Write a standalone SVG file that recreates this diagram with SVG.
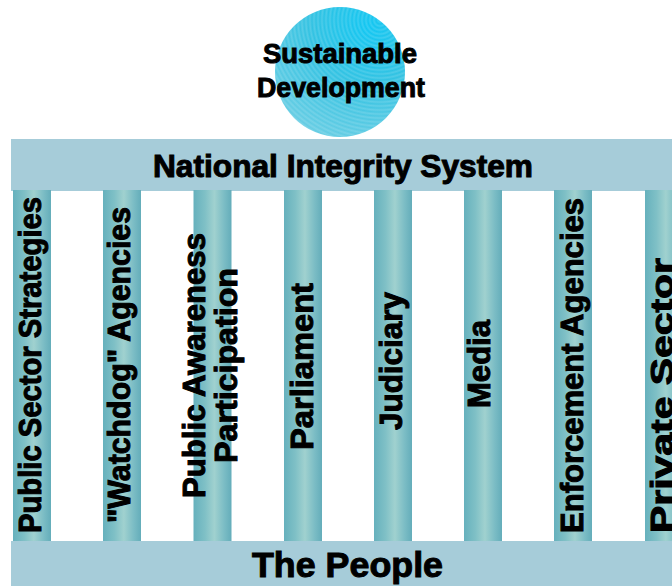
<svg xmlns="http://www.w3.org/2000/svg" width="672" height="586" viewBox="0 0 672 586">
  <defs>
    <linearGradient id="pillarShade" x1="0" y1="0" x2="1" y2="0">
      <stop offset="0" stop-color="#66b1bd"/>
      <stop offset="0.3" stop-color="#7fc0c6"/>
      <stop offset="0.55" stop-color="#a0d1cf"/>
      <stop offset="0.8" stop-color="#7cbdc5"/>
      <stop offset="1" stop-color="#64adba"/>
    </linearGradient>
    <radialGradient id="globeFill" cx="0.72" cy="0.15" r="1" fx="0.72" fy="0.15">
      <stop offset="0" stop-color="#10c6f2"/>
      <stop offset="0.45" stop-color="#32c2e2"/>
      <stop offset="1" stop-color="#70cfe4"/>
    </radialGradient>
    <radialGradient id="globeRings" gradientUnits="userSpaceOnUse" cx="380" cy="20" r="4" spreadMethod="repeat">
      <stop offset="0" stop-color="#ffffff" stop-opacity="0"/>
      <stop offset="0.5" stop-color="#ffffff" stop-opacity="0.16"/>
      <stop offset="1" stop-color="#ffffff" stop-opacity="0"/>
    </radialGradient>
  </defs>
  <style>
    .band { fill: #a6ccd9; }
    .pillar { fill: url(#pillarShade); }
    .label { font-family: "Liberation Sans", Arial, sans-serif; font-weight: bold; fill: #000; stroke: #000; stroke-width: 1; }
    .col { font-size: 31px; }
  </style>

  <!-- globe -->
  <g id="sustainable-development">
    <circle cx="340" cy="72" r="65" fill="url(#globeFill)"/>
    <circle cx="340" cy="72" r="65" fill="url(#globeRings)"/>
    <text class="label" x="263" y="63" font-size="28" textLength="154" lengthAdjust="spacingAndGlyphs">Sustainable</text>
    <text class="label" x="257" y="97" font-size="28" textLength="168" lengthAdjust="spacingAndGlyphs">Development</text>
  </g>

  <!-- roof -->
  <g id="national-integrity-system">
    <rect class="band" x="11" y="139" width="661" height="52"/>
    <text class="label" x="153" y="177" font-size="31" textLength="380" lengthAdjust="spacingAndGlyphs">National Integrity System</text>
  </g>

  <!-- pillars -->
  <g id="pillar-public-sector">
    <rect class="pillar" x="13" y="190" width="38" height="352"/>
    <text class="label col" transform="translate(41,533) rotate(-90)" textLength="336" lengthAdjust="spacingAndGlyphs">Public Sector Strategies</text>
  </g>
  <g id="pillar-watchdog">
    <rect class="pillar" x="103" y="190" width="38" height="352"/>
    <text class="label col" transform="translate(130,523) rotate(-90)" textLength="316" lengthAdjust="spacingAndGlyphs">"Watchdog" Agencies</text>
  </g>
  <g id="pillar-public-awareness">
    <rect class="pillar" x="193.5" y="190" width="38" height="352"/>
    <text class="label col" transform="translate(205,498) rotate(-90)" textLength="265" lengthAdjust="spacingAndGlyphs">Public Awareness</text>
    <text class="label col" transform="translate(237,463) rotate(-90)" textLength="195" lengthAdjust="spacingAndGlyphs">Participation</text>
  </g>
  <g id="pillar-parliament">
    <rect class="pillar" x="284" y="190" width="38" height="352"/>
    <text class="label col" transform="translate(313,450) rotate(-90)" textLength="167" lengthAdjust="spacingAndGlyphs">Parliament</text>
  </g>
  <g id="pillar-judiciary">
    <rect class="pillar" x="374" y="190" width="38" height="352"/>
    <text class="label col" transform="translate(402,430) rotate(-90)" textLength="138" lengthAdjust="spacingAndGlyphs">Judiciary</text>
  </g>
  <g id="pillar-media">
    <rect class="pillar" x="464" y="190" width="38" height="352"/>
    <text class="label col" transform="translate(490,408) rotate(-90)" textLength="88" lengthAdjust="spacingAndGlyphs">Media</text>
  </g>
  <g id="pillar-enforcement">
    <rect class="pillar" x="554" y="190" width="38" height="352"/>
    <text class="label col" transform="translate(583,533) rotate(-90)" textLength="335" lengthAdjust="spacingAndGlyphs">Enforcement Agencies</text>
  </g>
  <g id="pillar-private-sector">
    <rect class="pillar" x="645" y="190" width="38" height="352"/>
    <!-- runs past the right edge, so only the upper part of the letters shows -->
    <text class="label col" transform="translate(673,533) rotate(-90)" textLength="275" lengthAdjust="spacingAndGlyphs">Private Sector</text>
  </g>

  <!-- base -->
  <g id="the-people">
    <rect class="band" x="11" y="541" width="661" height="45"/>
    <text class="label" x="252" y="577" font-size="35" textLength="191" lengthAdjust="spacingAndGlyphs">The People</text>
  </g>

  <g id="connectors"/>
</svg>
